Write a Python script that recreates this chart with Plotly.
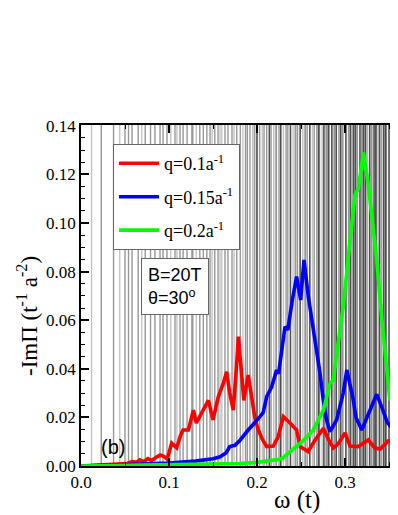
import plotly.graph_objects as go

# ---------------- data ----------------
omega_red = [0.0, 0.02, 0.035, 0.045, 0.052, 0.058, 0.063, 0.067, 0.071, 0.076, 0.080, 0.085,
             0.090, 0.094, 0.098, 0.103, 0.1087, 0.113, 0.116, 0.122, 0.1277, 0.131, 0.137,
             0.1447, 0.150, 0.156, 0.1617, 0.1655, 0.169, 0.173, 0.1765, 0.1788, 0.182, 0.185,
             0.190, 0.194, 0.1975, 0.2015, 0.206, 0.211, 0.2185, 0.224, 0.230, 0.2375, 0.245,
             0.249, 0.258, 0.266, 0.2755, 0.281, 0.2867, 0.292, 0.300, 0.3057, 0.315, 0.3265,
             0.334, 0.340, 0.349, 0.355, 0.360]
im_red = [0.0, 0.0004, 0.0008, 0.0012, 0.0010, 0.0018, 0.0015, 0.0025, 0.0018, 0.0030, 0.0022,
          0.0035, 0.0045, 0.0040, 0.0028, 0.0094, 0.0075, 0.0125, 0.0148, 0.0148, 0.0230, 0.0177,
          0.0218, 0.0270, 0.0190, 0.0285, 0.0340, 0.0388, 0.0300, 0.0230, 0.0400, 0.0532, 0.0400,
          0.0270, 0.0374, 0.0270, 0.0200, 0.0148, 0.0110, 0.0080, 0.0082, 0.0120, 0.0203, 0.0177,
          0.0148, 0.0080, 0.0060, 0.0107, 0.0155, 0.0110, 0.0074, 0.0090, 0.0136, 0.0082, 0.0080,
          0.0107, 0.0074, 0.0070, 0.0103, 0.0098, 0.0070]

omega_blue = [0.0, 0.05, 0.10, 0.13, 0.15, 0.158, 0.165, 0.169, 0.175, 0.181, 0.190, 0.2034,
              0.207, 0.211, 0.2167, 0.2223, 0.2245, 0.2318, 0.235, 0.240, 0.245, 0.2496, 0.2534,
              0.2583, 0.2621, 0.2665, 0.2716, 0.275, 0.279, 0.283, 0.2905, 0.298, 0.302, 0.309,
              0.3125, 0.319, 0.328, 0.336, 0.342, 0.348, 0.355, 0.360]
im_blue = [0.0, 0.0005, 0.0012, 0.0020, 0.0030, 0.0038, 0.0055, 0.0080, 0.0085, 0.0107, 0.0148,
           0.0203, 0.0220, 0.0285, 0.0326, 0.0395, 0.0380, 0.0573, 0.0560, 0.0680, 0.0779, 0.0683,
           0.0848, 0.0697, 0.0608, 0.0500, 0.0381, 0.0280, 0.0190, 0.0141, 0.0190, 0.0300, 0.0395,
           0.0280, 0.0200, 0.0148, 0.0230, 0.0295, 0.0240, 0.0180, 0.0148, 0.0220]

omega_green = [0.0, 0.10, 0.18, 0.20, 0.226, 0.230, 0.2413, 0.2527, 0.264, 0.2755, 0.283, 0.2867,
               0.292, 0.298, 0.3057, 0.3114, 0.315, 0.321, 0.3265, 0.336, 0.342, 0.3474, 0.351,
               0.354, 0.360]
im_green = [0.0, 0.0005, 0.0010, 0.0015, 0.0028, 0.0035, 0.0070, 0.0105, 0.0148, 0.0230, 0.0340,
            0.0354, 0.0500, 0.0655, 0.0930, 0.1115, 0.1140, 0.1290, 0.1156, 0.0848, 0.0600,
            0.0381, 0.0270, 0.0300, 0.0450]

series_names = ["q=0.1a<sup>-1</sup>", "q=0.15a<sup>-1</sup>", "q=0.2a<sup>-1</sup>"]

# vertical transition lines (omega positions), grouped by shade
lines_light = [0.012, 0.044, 0.069, 0.102, 0.109, 0.131, 0.149, 0.158, 0.160, 0.174, 0.184,
               0.195, 0.199, 0.206, 0.219, 0.221, 0.230, 0.241, 0.243, 0.252, 0.254, 0.263,
               0.274, 0.278, 0.287, 0.298, 0.309, 0.320, 0.331, 0.342, 0.352]
lines_mid = [0.023, 0.037, 0.050, 0.054, 0.058, 0.065, 0.073, 0.079, 0.084, 0.0898, 0.0932,
             0.0977, 0.1068, 0.1125, 0.116, 0.1205, 0.126, 0.127, 0.135, 0.139, 0.143, 0.1466,
             0.152, 0.1557, 0.1636, 0.167, 0.1716, 0.177, 0.181, 0.187, 0.189, 0.192, 0.197,
             0.203, 0.208, 0.211, 0.216, 0.222, 0.225, 0.233, 0.235, 0.244, 0.246, 0.255,
             0.257, 0.265, 0.268, 0.271, 0.279, 0.282, 0.288, 0.293, 0.297, 0.304, 0.308,
             0.314, 0.319, 0.325, 0.330, 0.336, 0.341, 0.347, 0.353, 0.358]
lines_dark = [0.200, 0.214, 0.227, 0.238, 0.249, 0.260, 0.270, 0.276, 0.281, 0.285, 0.290,
              0.295, 0.301, 0.306, 0.310, 0.312, 0.317, 0.321, 0.323, 0.328, 0.333, 0.335,
              0.339, 0.344, 0.346, 0.350, 0.355, 0.357]

x_ticks = [0.0, 0.1, 0.2, 0.3]
y_ticks = [0.0, 0.02, 0.04, 0.06, 0.08, 0.10, 0.12, 0.14]

# ---------------- figure ----------------
fig = go.Figure()

shapes = []
for xs, col, w in [(lines_light, "#c4c4c4", 1.4), (lines_mid, "#979797", 1.4), (lines_dark, "#505050", 1.6)]:
    for xv in xs:
        shapes.append(dict(type="line", xref="x", yref="paper", x0=xv, x1=xv, y0=0, y1=1,
                           line=dict(color=col, width=w), layer="below"))

for i, (xs, ys, col, name) in enumerate([(omega_red, im_red, "#ff0000", series_names[0]),
                                         (omega_blue, im_blue, "#0000ff", series_names[1]),
                                         (omega_green, im_green, "#00ff00", series_names[2])]):
    fig.add_trace(go.Scatter(x=xs, y=ys, mode="lines", name=name, legendgroup=f"g{i}",
                             line=dict(color=col, width=3.6)))

serif = "Liberation Serif"
sans = "Liberation Sans"

fig.update_layout(
    width=390, height=507,
    margin=dict(l=73, r=0, t=117, b=49),
    paper_bgcolor="white", plot_bgcolor="white",
    shapes=shapes,
    showlegend=True,
    legend=dict(x=0.101, y=0.944, xanchor="left", yanchor="top",
                bgcolor="white", bordercolor="#666666", borderwidth=1,
                font=dict(family=serif, size=18, color="black"),
                tracegroupgap=7, itemwidth=40),
    annotations=[
        dict(text="B=20T<br>θ=30<sup>o</sup>", xref="paper", yref="paper", x=0.298, y=0.525,
             xanchor="center", yanchor="middle",
             showarrow=False, font=dict(family=sans, size=18, color="black"),
             bordercolor="#666666", borderwidth=1, borderpad=6, bgcolor="white", align="left"),
        dict(text="(b)", xref="paper", yref="paper", x=0.101, y=0.056, showarrow=False,
             xanchor="center", yanchor="middle",
             font=dict(family=sans, size=20, color="black")),
        dict(text="-ImΠ (t<sup>-1</sup> a<sup>-2</sup>)", xref="paper", yref="paper",
             x=-0.167, y=0.44, xanchor="center", yanchor="middle", textangle=-90,
             showarrow=False, font=dict(family=serif, size=23, color="black")),
        dict(text="ω (t)", xref="paper", yref="paper", x=0.68, y=-0.10,
             xanchor="center", yanchor="middle", showarrow=False,
             font=dict(family=serif, size=25, color="black")),
    ],
)

fig.update_xaxes(range=[0, 0.3602], tickvals=x_ticks, ticktext=[f"{v:.1f}" for v in x_ticks],
                 ticks="inside", ticklen=8, tickwidth=1.5, tickcolor="black",
                 showline=True, linecolor="black", linewidth=1.5, mirror="ticks",
                 showgrid=False, zeroline=False,
                 minor=dict(dtick=0.05, tick0=0, ticks="inside", ticklen=4, tickcolor="black", tickwidth=1.2),
                 tickfont=dict(family=serif, size=17, color="black"))
fig.update_yaxes(range=[0, 0.1403], tickvals=y_ticks, ticktext=[f"{v:.2f}" for v in y_ticks],
                 ticks="inside", ticklen=8, tickwidth=1.5, tickcolor="black",
                 showline=True, linecolor="black", linewidth=1.5, mirror=False,
                 showgrid=False, zeroline=False,
                 minor=dict(dtick=0.005, tick0=0, ticks="inside", ticklen=4, tickcolor="black", tickwidth=1.2),
                 tickfont=dict(family=serif, size=17, color="black"))

fig.write_html("out.html")
